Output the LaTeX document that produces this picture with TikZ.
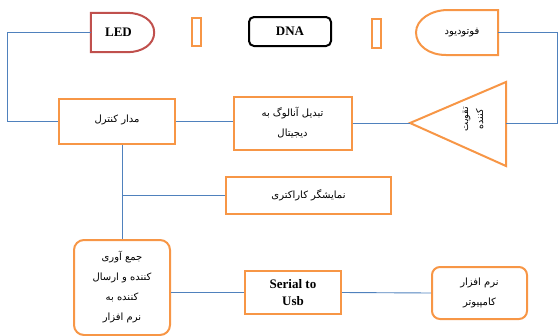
\documentclass[tikz,border=0pt]{standalone}
\usepackage{fontspec}
\setmainfont{Liberation Serif}
\newfontfamily\farsi[Script=Arabic]{DejaVu Sans}
\TeXXeTstate=1
\definecolor{boxorange}{HTML}{F79646}
\definecolor{ledred}{HTML}{C0504D}
\definecolor{wireblue}{HTML}{4F81BD}
\newcommand{\fa}[1]{\beginR#1\endR}

\begin{document}
\begin{tikzpicture}[x=1pt,y=-1pt,
    block/.style={draw=boxorange, line width=2pt, inner sep=0pt, align=center,
      font=\farsi\fontsize{10}{20}\selectfont},
    latin/.style={inner sep=0pt, align=center, font=\bfseries\fontsize{13}{17}\selectfont},
    wire/.style={draw=wireblue, line width=0.9pt}]
    \useasboundingbox (0,0) rectangle (559,335);

    % top row: light path
    \node[latin, minimum width=63pt, minimum height=39pt] (led) at (122.5,32.5) {\hspace{-8pt}LED};
    \draw[ledred, line width=2pt] (led.north west) -- ++(36,0)
        .. controls +(15,0) and +(0,-12) .. (led.east)
        .. controls +(0,12) and +(15,0) .. ([xshift=-27pt]led.south east)
        -- (led.south west) -- cycle;
    \node[draw=boxorange, line width=2pt, minimum width=9pt, minimum height=28pt, inner sep=0pt] (slitA) at (196.5,32) {};
    \node[latin, draw=black, line width=2pt, rounded corners=5pt, minimum width=82pt, minimum height=29pt] (dna) at (290,31.5) {DNA};
    \node[draw=boxorange, line width=2pt, minimum width=9pt, minimum height=29pt, inner sep=0pt] (slitB) at (376.5,33.5) {};
    \node[block, draw=none, minimum width=80pt, minimum height=43pt] (pd) at (457,32.5) {\hspace{10pt}\fa{فوتودیود}};
    \draw[boxorange, line width=2pt] (pd.north east) -- ++(-50,0)
        .. controls +(-17,0) and +(0,-13) .. (pd.west)
        .. controls +(0,13) and +(-17,0) .. ([xshift=30pt]pd.south west)
        -- (pd.south east) -- cycle;

    % middle row
    \node[block, minimum width=116pt, minimum height=45pt] (ctrl) at (117,121.5) {\raisebox{6pt}{\fa{مدار کنترل}}};
    \node[block, minimum width=118pt, minimum height=53pt] (adc) at (292.5,123) {\fa{تبدیل آنالوگ به}\\\fa{دیجیتال}};
    \coordinate (amptip) at (410,123);
    \coordinate (ampback) at (506,123);
    \draw[boxorange, line width=2pt] (amptip) -- (506,82) -- (506,166) -- cycle;
    \node[block, draw=none, rotate=90, font=\farsi\fontsize{9.5}{15}\selectfont] (amp) at (473,119) {\fa{تقویت}\\\fa{کننده}};
    \node[block, minimum width=165pt, minimum height=37pt] (disp) at (308.5,195.5) {\fa{نمایشگر کاراکتری}};

    % bottom row
    \node[block, rounded corners=10pt, minimum width=96pt, minimum height=95pt] (coll) at (122,287.5)
        {\fa{جمع آوری}\\\fa{کننده و ارسال}\\\fa{کننده به}\\\fa{نرم افزار}};
    \node[latin, draw=boxorange, line width=2pt, minimum width=96pt, minimum height=43pt] (serial) at (293,292.5) {Serial to\\Usb};
    \node[block, rounded corners=8pt, minimum width=95pt, minimum height=52pt] (soft) at (479.5,293) {\fa{نرم افزار}\\\fa{کامپیوتر}};

    % connections
    \draw[wire] (led.west) -- ++(-83,0) |- (ctrl.west);
    \draw[wire] (ctrl.east) -- (ctrl.east -| adc.west);
    \draw[wire] (adc.east) -- (amptip);
    \draw[wire] (ampback) -- ++(51,0) |- (pd.east);
    \draw[wire] (coll.north |- ctrl.south) -- (coll.north);
    \draw[wire] (coll.north |- disp.west) -- (disp.west);
    \draw[wire] (serial.west -| coll.east) -- (serial.west);
    \draw[wire] (serial.east) -- (soft.west);
\end{tikzpicture}
\end{document}
